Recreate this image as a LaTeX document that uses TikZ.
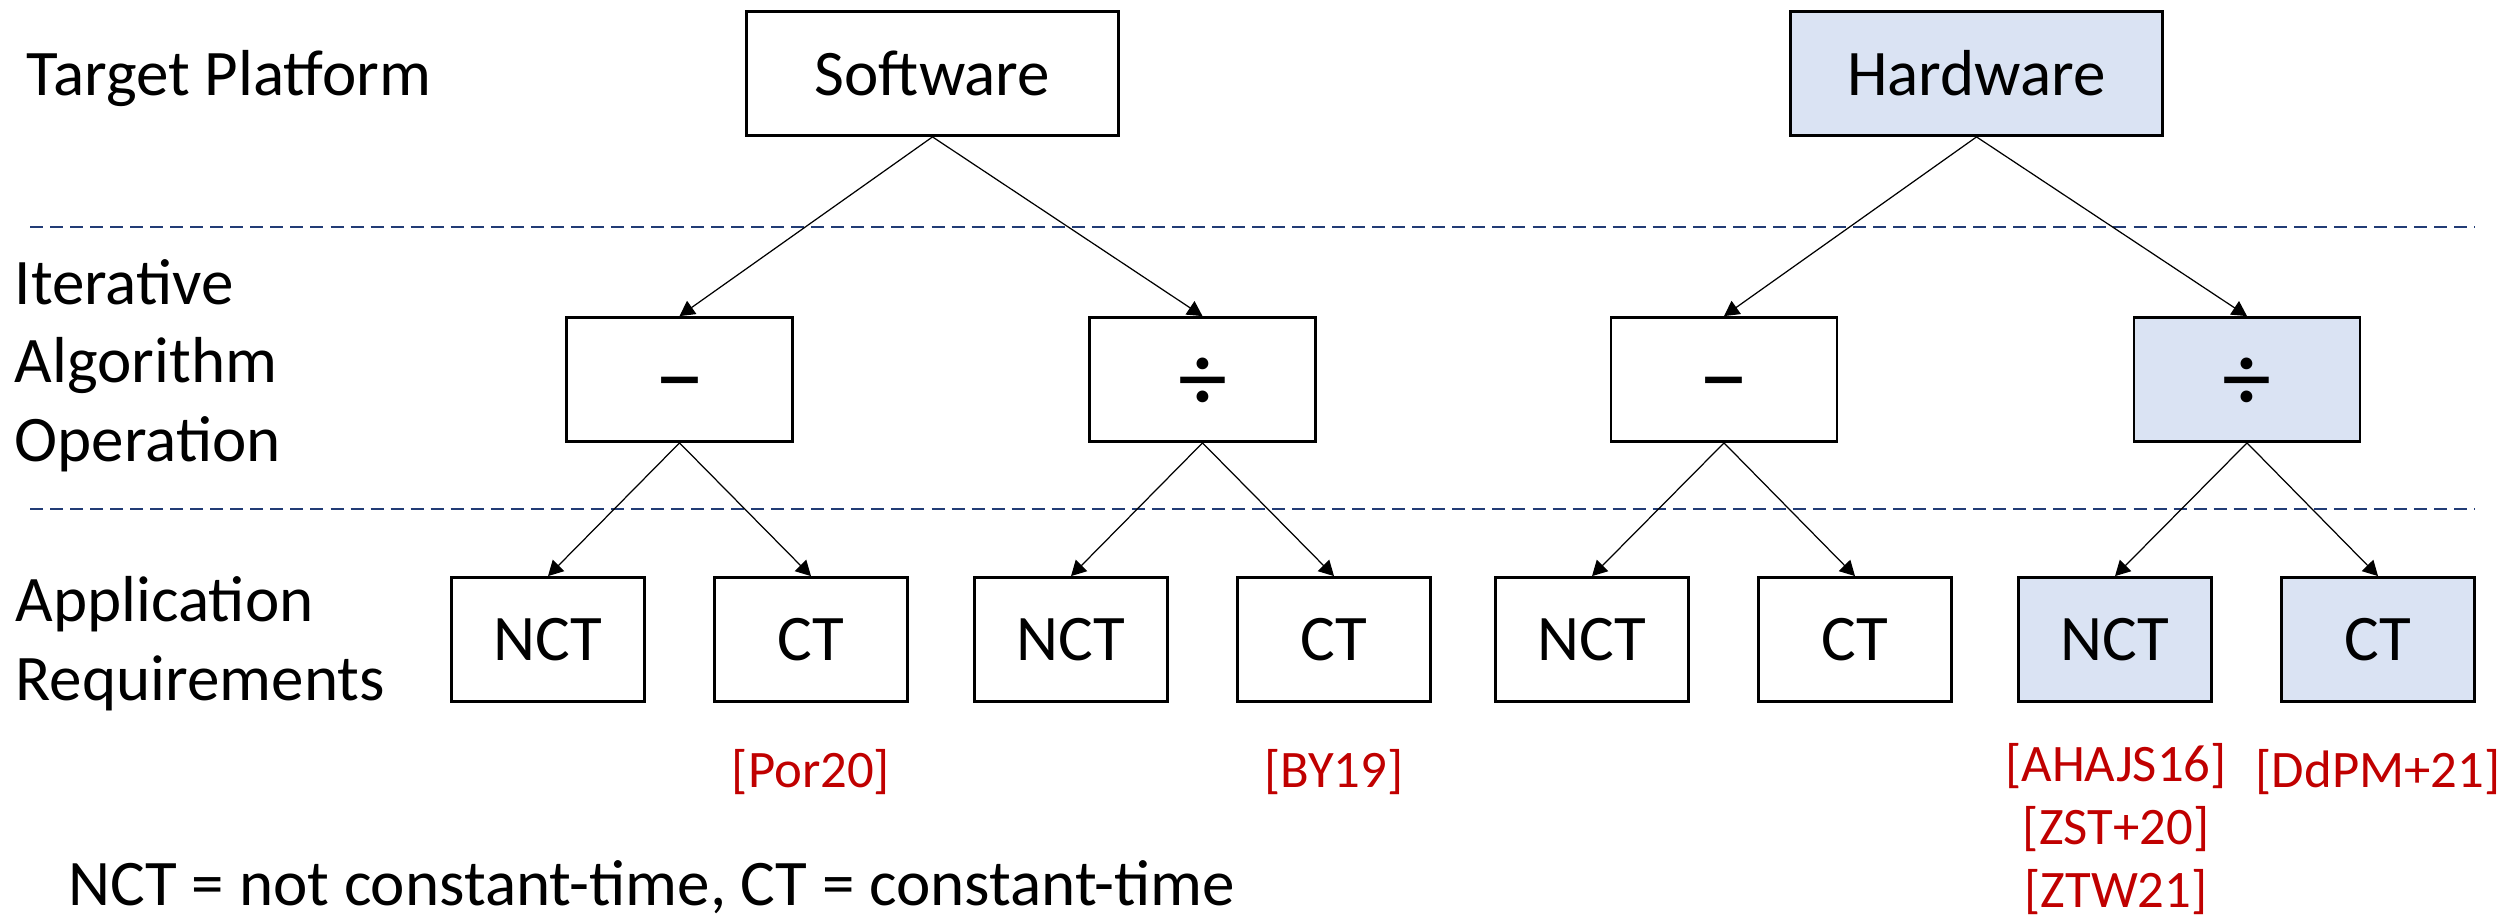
\documentclass[tikz,border=0pt]{standalone}
\usepackage{xcolor}
\usepackage{fontspec}
\setmainfont{Carlito}
\usepackage{tikz}
\usetikzlibrary{arrows.meta}

\definecolor{hwfill}{RGB}{218,227,243}
\definecolor{citered}{RGB}{192,0,0}
\definecolor{sepcol}{RGB}{34,60,118}

\tikzset{
    lbl/.style={inner sep=0pt, font=\fontsize{18.5}{22.2}\selectfont},
    box/.style={draw=black, line width=0.8pt, inner sep=0pt, minimum height=1.24cm, font=\fontsize{18.5}{22}\selectfont},
    platbox/.style={box, minimum width=3.72cm},
    opbox/.style={box, minimum width=2.26cm, text height=18pt, text depth=0pt, font=\fontsize{28}{30}\selectfont},
    reqbox/.style={box, minimum width=1.93cm},
    hw/.style={fill=hwfill},
    arr/.style={-{Triangle[length=1.5mm,width=1.6mm]}, line width=0.35pt},
    sepline/.style={draw=sepcol, dash pattern=on 3.7pt off 2pt, line width=0.45pt},
    cite/.style={inner sep=0pt, text=citered, font=\fontsize{15}{17.9}\selectfont}
}

\begin{document}
\begin{tikzpicture}
    \useasboundingbox (0,0) rectangle (25.04,9.2);

    % Target Platform
    \node[lbl, anchor=base west] (lplat) at (0.26,8.25) {Target Platform};
    \node[platbox] (sw) at (9.325,8.465) {Software};
    \node[platbox, hw] (hwp) at (19.765,8.465) {Hardware};

    \draw[sepline] (0.3,6.93) -- (24.75,6.93);

    % Iterative Algorithm Operation
    \node[lbl, anchor=base west, align=left] (lop) at (0.14,4.59) {Iterative\\Algorithm\\Operation};
    \node[opbox] (swsub) at (6.795,5.405) {−};
    \node[opbox] (swdiv) at (12.025,5.405) {÷};
    \node[opbox] (hwsub) at (17.24,5.405) {−};
    \node[opbox, hw] (hwdiv) at (22.47,5.405) {÷};

    \draw[arr] (sw.south) -- (swsub.north);
    \draw[arr] (sw.south) -- (swdiv.north);
    \draw[arr] (hwp.south) -- (hwsub.north);
    \draw[arr] (hwp.south) -- (hwdiv.north);

    \draw[sepline] (0.3,4.11) -- (24.75,4.11);

    % Application Requirements
    \node[lbl, anchor=base west, align=left] (lreq) at (0.15,2.20) {Application\\Requirements};
    \node[reqbox] (swsubn) at (5.48,2.805) {NCT};
    \node[reqbox] (swsubc) at (8.11,2.805) {CT};
    \node[reqbox] (swdivn) at (10.71,2.805) {NCT};
    \node[reqbox] (swdivc) at (13.34,2.805) {CT};
    \node[reqbox] (hwsubn) at (15.92,2.805) {NCT};
    \node[reqbox] (hwsubc) at (18.55,2.805) {CT};
    \node[reqbox, hw] (hwdivn) at (21.15,2.805) {NCT};
    \node[reqbox, hw] (hwdivc) at (23.78,2.805) {CT};

    \draw[arr] (swsub.south) -- (swsubn.north);
    \draw[arr] (swsub.south) -- (swsubc.north);
    \draw[arr] (swdiv.south) -- (swdivn.north);
    \draw[arr] (swdiv.south) -- (swdivc.north);
    \draw[arr] (hwsub.south) -- (hwsubn.north);
    \draw[arr] (hwsub.south) -- (hwsubc.north);
    \draw[arr] (hwdiv.south) -- (hwdivn.north);
    \draw[arr] (hwdiv.south) -- (hwdivc.north);

    % references
    \node[cite, anchor=base] (cpor) at (8.11,1.33) {[Por20]};
    \node[cite, anchor=base] (cby) at (13.34,1.33) {[BY19]};
    \node[cite, anchor=base, align=center] (cahajs) at (21.16,0.13) {[AHAJS16]\\{}[ZST+20]\\{}[ZTW21]};
    \node[cite, anchor=base] (cddpm) at (23.78,1.33) {[DdPM+21]};

    \node[lbl, anchor=base west] (legend) at (0.68,0.15) {NCT = not constant-time, CT = constant-time};
\end{tikzpicture}
\end{document}
